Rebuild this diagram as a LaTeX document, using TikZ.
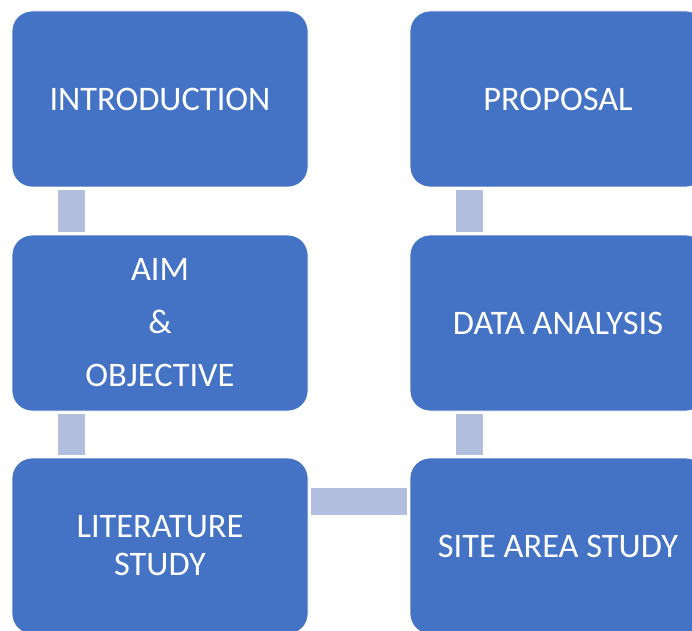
\documentclass[tikz,border=0pt]{standalone}
\usepackage{fontspec}
\setmainfont{Carlito}
\usepackage{tikz}
\usetikzlibrary{calc}
\definecolor{boxblue}{HTML}{4472C4}
\definecolor{linkblue}{HTML}{B1BEDE}

\begin{document}
\begin{tikzpicture}[x=1pt, y=1pt,
    stage/.style={draw=white, line width=0.8pt, fill=boxblue, rounded corners=20pt,
        minimum width=296pt, minimum height=176pt, text=white, align=center,
        font=\fontsize{34.4}{38}\selectfont},
    link/.style={draw=linkblue, line width=27pt, shorten >=3pt, shorten <=3pt}]
\useasboundingbox (0,0) rectangle (692,630);
\clip (0,0) rectangle (692,630);
% LEFT COLUMN: going down
\node[stage] (intro) at (160,531) {INTRODUCTION};
\node[stage] (aim) at (160,307) {AIM\\[15pt]\&\\[15pt]OBJECTIVE};
\node[stage] (lit) at (160,84) {LITERATURE\\STUDY};
% RIGHT COLUMN: going up
\node[stage] (site) at (558,84) {SITE AREA STUDY};
\node[stage] (data) at (558,307) {DATA ANALYSIS};
\node[stage] (prop) at (558,531) {PROPOSAL};
% connectors
\draw[link] ([xshift=-89pt]intro.south) -- ([xshift=-89pt]aim.north);
\draw[link] ([xshift=-89pt]aim.south) -- ([xshift=-89pt]lit.north);
\draw[link] ([yshift=45pt]lit.east) -- ([yshift=45pt]site.west);
\draw[link] ([xshift=-89pt]site.north) -- ([xshift=-89pt]data.south);
\draw[link] ([xshift=-89pt]data.north) -- ([xshift=-89pt]prop.south);
\end{tikzpicture}
\end{document}
